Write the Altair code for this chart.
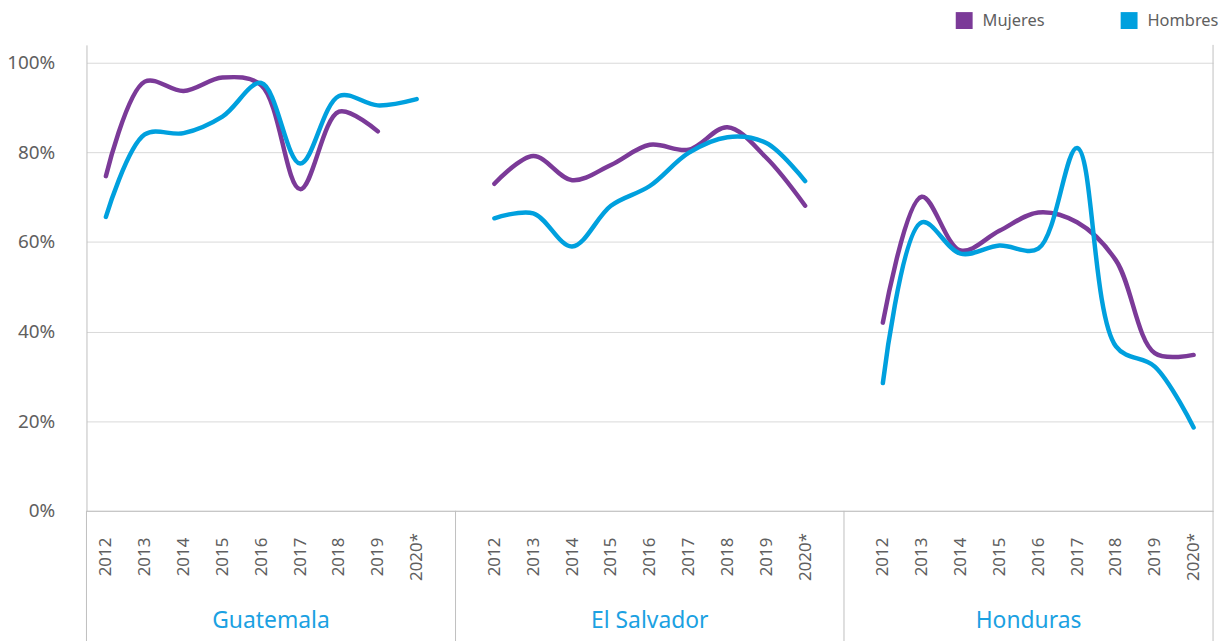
import json
import altair as alt
import pandas as pd

groups = ["Guatemala", "El Salvador", "Honduras"]
years = ["2012", "2013", "2014", "2015", "2016", "2017", "2018", "2019", "2020*"]
series = ["Mujeres", "Hombres"]

guat_muj = [74.7, 95.8, 93.7, 96.7, 95.0, 71.8, 89.1, 84.7, None]
guat_hom = [65.6, 84.0, 84.3, 88.0, 95.5, 77.5, 92.6, 90.5, 91.9]
els_muj = [73.0, 79.2, 73.8, 77.2, 81.7, 80.6, 85.6, 78.8, 68.1]
els_hom = [65.3, 66.4, 59.0, 68.1, 72.5, 79.9, 83.4, 82.1, 73.6]
hon_muj = [42.0, 70.1, 58.1, 62.5, 66.6, 64.4, 55.9, 35.2, 34.8]
hon_hom = [28.5, 64.4, 57.4, 59.2, 58.5, 81.0, 36.7, 32.2, 18.6]

values = {
    ("Guatemala", "Mujeres"): guat_muj,
    ("Guatemala", "Hombres"): guat_hom,
    ("El Salvador", "Mujeres"): els_muj,
    ("El Salvador", "Hombres"): els_hom,
    ("Honduras", "Mujeres"): hon_muj,
    ("Honduras", "Hombres"): hon_hom,
}

SLOTS_PER_GROUP = len(years) + 1  # one blank slot between groups
N_SLOTS = SLOTS_PER_GROUP * len(groups) - 1

rows = []
for g, grp in enumerate(groups):
    for s in series:
        for i, y in enumerate(years):
            v = values[(grp, s)][i]
            if v is None:
                continue
            rows.append({"group": grp, "serie": s, "year": y,
                         "slot": g * SLOTS_PER_GROUP + i + 0.5, "value": v})
df = pd.DataFrame(rows)

# separators between groups (at blank slots) and outer edges
seps = [0] + [g * SLOTS_PER_GROUP - 0.5 for g in range(1, len(groups))] + [N_SLOTS]
sep_df = pd.DataFrame({"x": seps})
edge_df = pd.DataFrame({"x": [N_SLOTS]})
grp_df = pd.DataFrame({"group": groups,
                       "x": [(seps[k] + seps[k + 1]) / 2 for k in range(len(groups))]})

W, H = 1134, 469
FONT = "Noto Sans"
GRAY = "#606060"
LINE = "#BFBFBF"

tick_vals = [g * SLOTS_PER_GROUP + i + 0.5 for g in range(len(groups)) for i in range(len(years))]
label_expr = json.dumps(years).replace('"', "'") + f"[floor(datum.value) % {SLOTS_PER_GROUP}]"

xscale = alt.Scale(domain=[0, N_SLOTS], nice=False, zero=False)
yscale = alt.Scale(domain=[0, 104], nice=False)

color = alt.Color(
    "serie:N",
    scale=alt.Scale(domain=series, range=["#7B3A98", "#00A0DE"]),
    legend=alt.Legend(
        title=None, orient="none", legendX=875, legendY=-33, direction="horizontal",
        symbolType="square", symbolSize=1, symbolStrokeWidth=16, symbolOpacity=1,
        labelFontSize=16.5, labelColor=GRAY, labelFont=FONT, labelOffset=10,
        columnPadding=52, padding=0,
    ),
)

lines = alt.Chart(df).mark_line(
    interpolate="catmull-rom", strokeWidth=4.5, strokeCap="round"
).encode(
    x=alt.X("slot:Q", scale=xscale, axis=alt.Axis(
        title=None, values=tick_vals, labelExpr=label_expr, labelAngle=270,
        labelAlign="center", labelBaseline="middle", labelPadding=46,
        ticks=False, grid=False, domain=True, domainColor=LINE,
        labelFontSize=17, labelColor=GRAY, labelFont=FONT)),
    y=alt.Y("value:Q", scale=yscale, axis=alt.Axis(
        title=None, values=[0, 20, 40, 60, 80, 100], labelExpr="datum.value + '%'",
        ticks=False, grid=True, gridColor="#D9D9D9", domain=True, domainColor=LINE,
        labelPadding=32, labelFontSize=19, labelColor=GRAY, labelFont=FONT)),
    color=color,
    detail="group:N",
)

sep_rules = alt.Chart(sep_df).mark_rule(color=LINE, strokeWidth=1).encode(
    x=alt.X("x:Q", scale=xscale), y=alt.value(H), y2=alt.value(H + 135))
edge_rule = alt.Chart(edge_df).mark_rule(color=LINE, strokeWidth=1).encode(
    x=alt.X("x:Q", scale=xscale), y=alt.value(0), y2=alt.value(H))

grp_text = alt.Chart(grp_df).mark_text(
    fontSize=23, color="#1BA1E2", font=FONT, baseline="middle", align="center"
).encode(x=alt.X("x:Q", scale=xscale), y=alt.value(H + 111), text="group:N")

chart = alt.layer(sep_rules, edge_rule, lines, grp_text).properties(
    width=W, height=H,
    autosize=alt.AutoSizeParams(type="none"),
    padding={"left": 79, "top": 35, "right": 7, "bottom": 140},
).configure_view(stroke=None)

chart.save("out.html", embed_options={"renderer": "svg", "actions": False})
